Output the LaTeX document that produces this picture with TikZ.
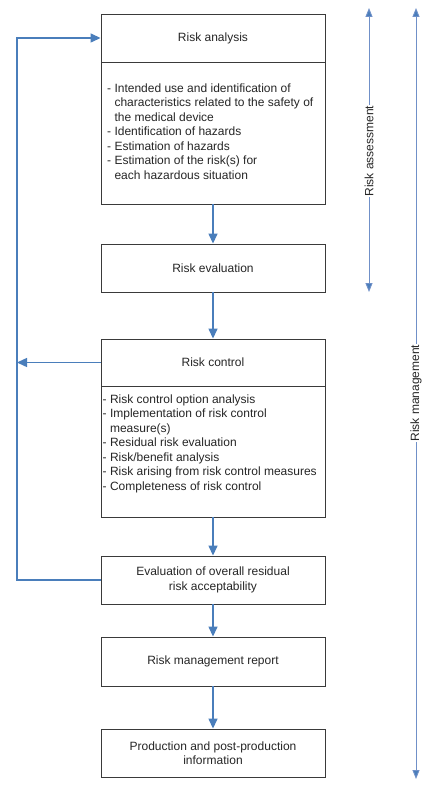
\documentclass[tikz,border=0pt]{standalone}
\usepackage{fontspec}
\setmainfont{Liberation Sans}
\usetikzlibrary{arrows.meta}
\definecolor{flowblue}{HTML}{4A7EBB}
\definecolor{sideblue}{HTML}{7090C8}
\definecolor{boxline}{HTML}{3A3A3A}
\definecolor{txt}{HTML}{262626}
\begin{document}
\begin{tikzpicture}[x=1pt,y=-1pt,
  every node/.style={font=\fontsize{12}{14.5}\selectfont, text=txt},
  stepbox/.style={draw=boxline, line width=0.9pt, fill=white, minimum width=224pt, inner sep=0pt},
  listtext/.style={inner sep=0pt, align=left, anchor=north west},
  flow/.style={draw=flowblue, line width=1.4pt, -{Triangle[length=10pt,width=9pt]}},
  flowline/.style={draw=flowblue, line width=1.4pt},
  side/.style={draw=sideblue, line width=0.9pt, {Triangle[length=9pt,width=7pt,fill=flowblue]}-{Triangle[length=9pt,width=7pt,fill=flowblue]}},
  sidelabel/.style={rotate=90, fill=white, inner sep=1pt}
]
\useasboundingbox (0,0) rectangle (425,786);
\fill[white] (0,0) rectangle (425,786);

% boxes
\node[stepbox, minimum height=48pt] (ra) at (213,38) {Risk analysis};
\node[stepbox, minimum height=142pt] (rad) at (213,133) {};
\node[stepbox, minimum height=48pt] (re) at (213,268) {Risk evaluation};
\node[stepbox, minimum height=47pt] (rc) at (213,362.5) {Risk control};
\node[stepbox, minimum height=131pt] (rcd) at (213,451.5) {};
\node[stepbox, minimum height=48pt, align=center] (ev) at (213,580) {Evaluation of overall residual\\risk acceptability};
\node[stepbox, minimum height=49pt] (rmr) at (213,661.5) {Risk management report};
\node[stepbox, minimum height=48pt, align=center] (pp) at (213,753) {Production and post-production\\information};

% list texts
\node[listtext] (radt) at (107,83.5) {- Intended use and identification of\\
\hphantom{- }characteristics related to the safety of\\
\hphantom{- }the medical device\\
- Identification of hazards\\
- Estimation of hazards\\
- Estimation of the risk(s) for\\
\hphantom{- }each hazardous situation};
\node[listtext] (rcdt) at (102.5,394.5) {- Risk control option analysis\\
- Implementation of risk control\\
\hphantom{- }measure(s)\\
- Residual risk evaluation\\
- Risk/benefit analysis\\
- Risk arising from risk control measures\\
- Completeness of risk control};

% flow arrows
\draw[flow] (rad.south) -- (re.north);
\draw[flow] (re.south) -- (rc.north);
\draw[flow] (rcd.south) -- (ev.north);
\draw[flow] (ev.south) -- (rmr.north);
\draw[flow] (rmr.south) -- (pp.north);

% feedback loops
\coordinate (lb) at (17,580);
\coordinate (lt) at (17,38);
\coordinate (lc) at (17,362.5);
\draw[flow] (ev.west) -- (lb) -- (lt) -- (ra.west);
\draw[flow] (rc.west) -- (lc);

% side arrows
\coordinate (ast) at (369,8);
\coordinate (asb) at (369,292);
\coordinate (mgt) at (416,8);
\coordinate (mgb) at (416,779);
\draw[side] (ast) -- (asb);
\draw[side] (mgt) -- (mgb);
\node[sidelabel] (aslab) at (369,151) {Risk assessment};
\node[sidelabel] (mglab) at (416,393) {Risk management};
\end{tikzpicture}
\end{document}
